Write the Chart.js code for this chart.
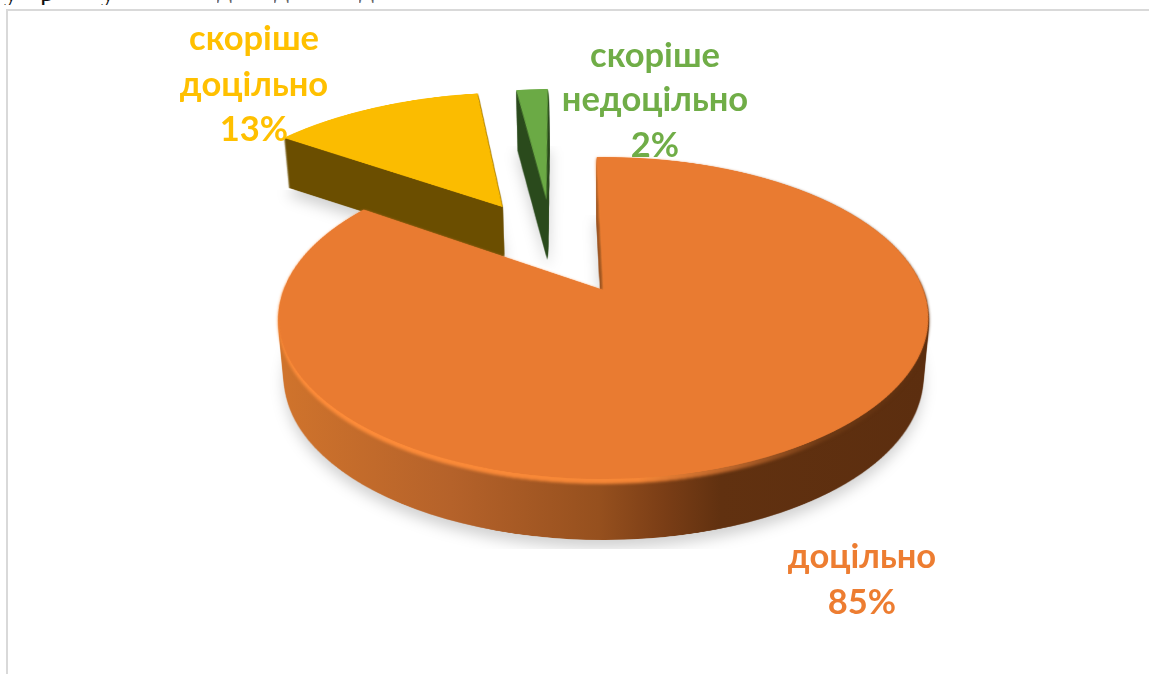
<!DOCTYPE html>
<html lang="uk">
<head>
<meta charset="utf-8">
<title>Доцільність</title>
<script src="https://cdn.jsdelivr.net/npm/chart.js@4"></script>
<style>
    html, body { margin: 0; padding: 0; background: #fff; overflow: hidden; }
    #page { position: relative; width: 1149px; height: 674px; overflow: hidden; }
    #frame { position: absolute; left: 6px; top: 9px; width: 1160px; height: 700px; border: 2px solid #d9d9d9; box-sizing: border-box; }
    #chart { position: absolute; left: 0; top: 0; }
    .cut { position: absolute; top: 0; height: 5px; overflow: hidden; width: 60px; }
    .cut span { position: absolute; left: 0; bottom: 0; white-space: pre; font-family: "Liberation Serif", serif; color: #111; line-height: 1; }
</style>
</head>
<body>
<div id="page">
    <div id="frame"></div>
    <div class="cut" style="left:4px"><span style="font-size:28px;bottom:-1px">у</span></div>
    <div class="cut" style="left:40px"><span style="font-size:28px;bottom:-1px">р</span></div>
    <div class="cut" style="left:101px"><span style="font-size:28px;bottom:-1px">у</span></div>
    <div class="cut" style="left:217px;height:3px"><span style="font-size:30px;color:#666">д</span></div>
    <div class="cut" style="left:274px;height:3px"><span style="font-size:30px;color:#666">д</span></div>
    <div class="cut" style="left:359px;height:3px"><span style="font-size:30px;color:#666">д</span></div>
    <canvas id="chart" width="1149" height="674"></canvas>
</div>
<script>
// Data
const categories = ['доцільно', 'скоріше доцільно', 'скоріше недоцільно'];
const shares = [85, 13, 2];
const sliceColors = ['#E97B31', '#FBBC00', '#6BAA45'];
const labelColors = ['#ED7D31', '#FFC000', '#70AD47'];

// Tilted view of the pie: plan coordinates go through a perspective projection
const VIEW = { cx: 605.5, cy: 290, a: 320, b: 156.1, p: 0.1739 };
const PLAN_SIZE = 1800;
const PLAN_UNIT = 440;
const W = 1149, H = 674;

// Per slice look, same order as the data
const explodeX = [-0.006, -0.354, -0.205];
const explodeY = [0, -0.585, -0.64];
const sliceScale = [1, 1.04, 1.02];
const depths = [61, 50, 60];
const rims = [5, 0, 0];
const shadowTops = [215, 190, 146];
const labelX = [862, 254, 655];
const labelY = [[557, 603], [39, 85, 130], [56, 100, 146]];
const drawOrder = [1, 2, 0];
const BASE_SHRINK = 0.018; // the bottom of the disc is slightly narrower than the top

function makeCanvas(w, h) {
    const c = document.createElement('canvas');
    c.width = w;
    c.height = h;
    return c;
}

// Draw the library's arc top-down on a big canvas
function planOf(arc, i) {
    const c = makeCanvas(PLAN_SIZE, PLAN_SIZE);
    const ctx = c.getContext('2d');
    const k = PLAN_UNIT * sliceScale[i] / arc.outerRadius;
    const ox = PLAN_SIZE / 2 + explodeX[i] * PLAN_UNIT - k * arc.x;
    const oy = PLAN_SIZE / 2 + explodeY[i] * PLAN_UNIT - k * arc.y;
    ctx.setTransform(k, 0, 0, k, ox, oy);
    arc.draw(ctx);
    return c;
}

// Row by row perspective warp from plan to screen
function project(plan) {
    const out = makeCanvas(W, H);
    const ctx = out.getContext('2d');
    ctx.imageSmoothingQuality = 'high';
    const { cx, cy, a, b, p } = VIEW;
    const rowV = Y => Y / (b + p * Y);
    for (let y = 0; y < H; y++) {
        const v1 = rowV(y - cy);
        const v2 = rowV(y + 1 - cy);
        const mid = (v1 + v2) / 2;
        const sy = PLAN_SIZE / 2 + v1 * PLAN_UNIT;
        const sh = (v2 - v1) * PLAN_UNIT;
        if (sy < 0 || sy + sh > PLAN_SIZE) continue;
        const scale = a / (1 - p * mid) / PLAN_UNIT;
        ctx.drawImage(plan, 0, sy, PLAN_SIZE, sh, cx - PLAN_SIZE / 2 * scale, y, PLAN_SIZE * scale, 1);
    }
    return out;
}

function sideFill(ctx, i) {
    if (i === 1) return '#6B4E00';
    if (i === 2) return '#2A4A1C';
    const g = ctx.createLinearGradient(285, 0, 925, 0);
    g.addColorStop(0, '#CF732C');
    g.addColorStop(0.26, '#B5622A');
    g.addColorStop(0.49, '#96501E');
    g.addColorStop(0.59, '#7B3E16');
    g.addColorStop(0.68, '#613110');
    g.addColorStop(1, '#5C2E0F');
    return g;
}

function rimFill(ctx) {
    const g = ctx.createLinearGradient(285, 0, 925, 0);
    g.addColorStop(0, '#FF8D3A');
    g.addColorStop(0.55, '#F58636');
    g.addColorStop(0.7, '#B9642A');
    g.addColorStop(0.84, '#6E3A15');
    g.addColorStop(1, '#5C2E0F');
    return g;
}

// Stack the flat top down by depth and recolour the stack
function extrude(top, from, to, fill) {
    const c = makeCanvas(W, H);
    const ctx = c.getContext('2d');
    for (let d = to; d >= from; d--) {
        const s = 1 - BASE_SHRINK * d / 60;
        ctx.drawImage(top, VIEW.cx * (1 - s), d, W * s, H);
    }
    ctx.globalCompositeOperation = 'source-in';
    ctx.fillStyle = fill;
    ctx.fillRect(0, 0, W, H);
    return c;
}

const pie3d = {
    id: 'pie3d',
    beforeDatasetDraw(chart) {
        const ctx = chart.ctx;
        const arcs = chart.getDatasetMeta(0).data;
        drawOrder.forEach(i => {
            const top = project(planOf(arcs[i], i));
            const side = extrude(top, 1, depths[i], sideFill(ctx, i));

            // soft shadow, cut off flat like in the picture
            ctx.save();
            ctx.beginPath();
            ctx.rect(0, shadowTops[i], W, 549 - shadowTops[i]);
            ctx.clip();
            const sh = extrude(top, depths[i] + 2, depths[i] + 8, '#000');
            ctx.globalAlpha = 0.18;
            ctx.filter = 'blur(7px)';
            ctx.drawImage(sh, 0, 0);
            ctx.restore();

            ctx.drawImage(side, 0, 0);
            if (rims[i]) {
                ctx.save();
                ctx.filter = 'blur(1.5px)';
                ctx.drawImage(extrude(top, 1, rims[i], rimFill(ctx)), 0, 0);
                ctx.restore();
            }
            ctx.drawImage(top, 0, 0);
        });
        return false;
    },
    afterDraw(chart) {
        const ctx = chart.ctx;
        ctx.save();
        ctx.textAlign = 'center';
        ctx.textBaseline = 'middle';
        ctx.font = 'bold 34.5px Lato, "Open Sans", sans-serif';
        categories.forEach((name, i) => {
            ctx.fillStyle = labelColors[i];
            const lines = name.split(' ').concat(shares[i] + '%');
            lines.forEach((line, n) => ctx.fillText(line, labelX[i], labelY[i][n]));
        });
        ctx.restore();
    }
};

new Chart(document.getElementById('chart'), {
    type: 'pie',
    data: {
        labels: categories,
        datasets: [{
            data: shares,
            backgroundColor: sliceColors,
            borderWidth: 0
        }]
    },
    options: {
        responsive: false,
        animation: false,
        rotation: -1.5,
        events: [],
        plugins: {
            legend: { display: false },
            tooltip: { enabled: false }
        }
    },
    plugins: [pie3d]
});
</script>
</body>
</html>
